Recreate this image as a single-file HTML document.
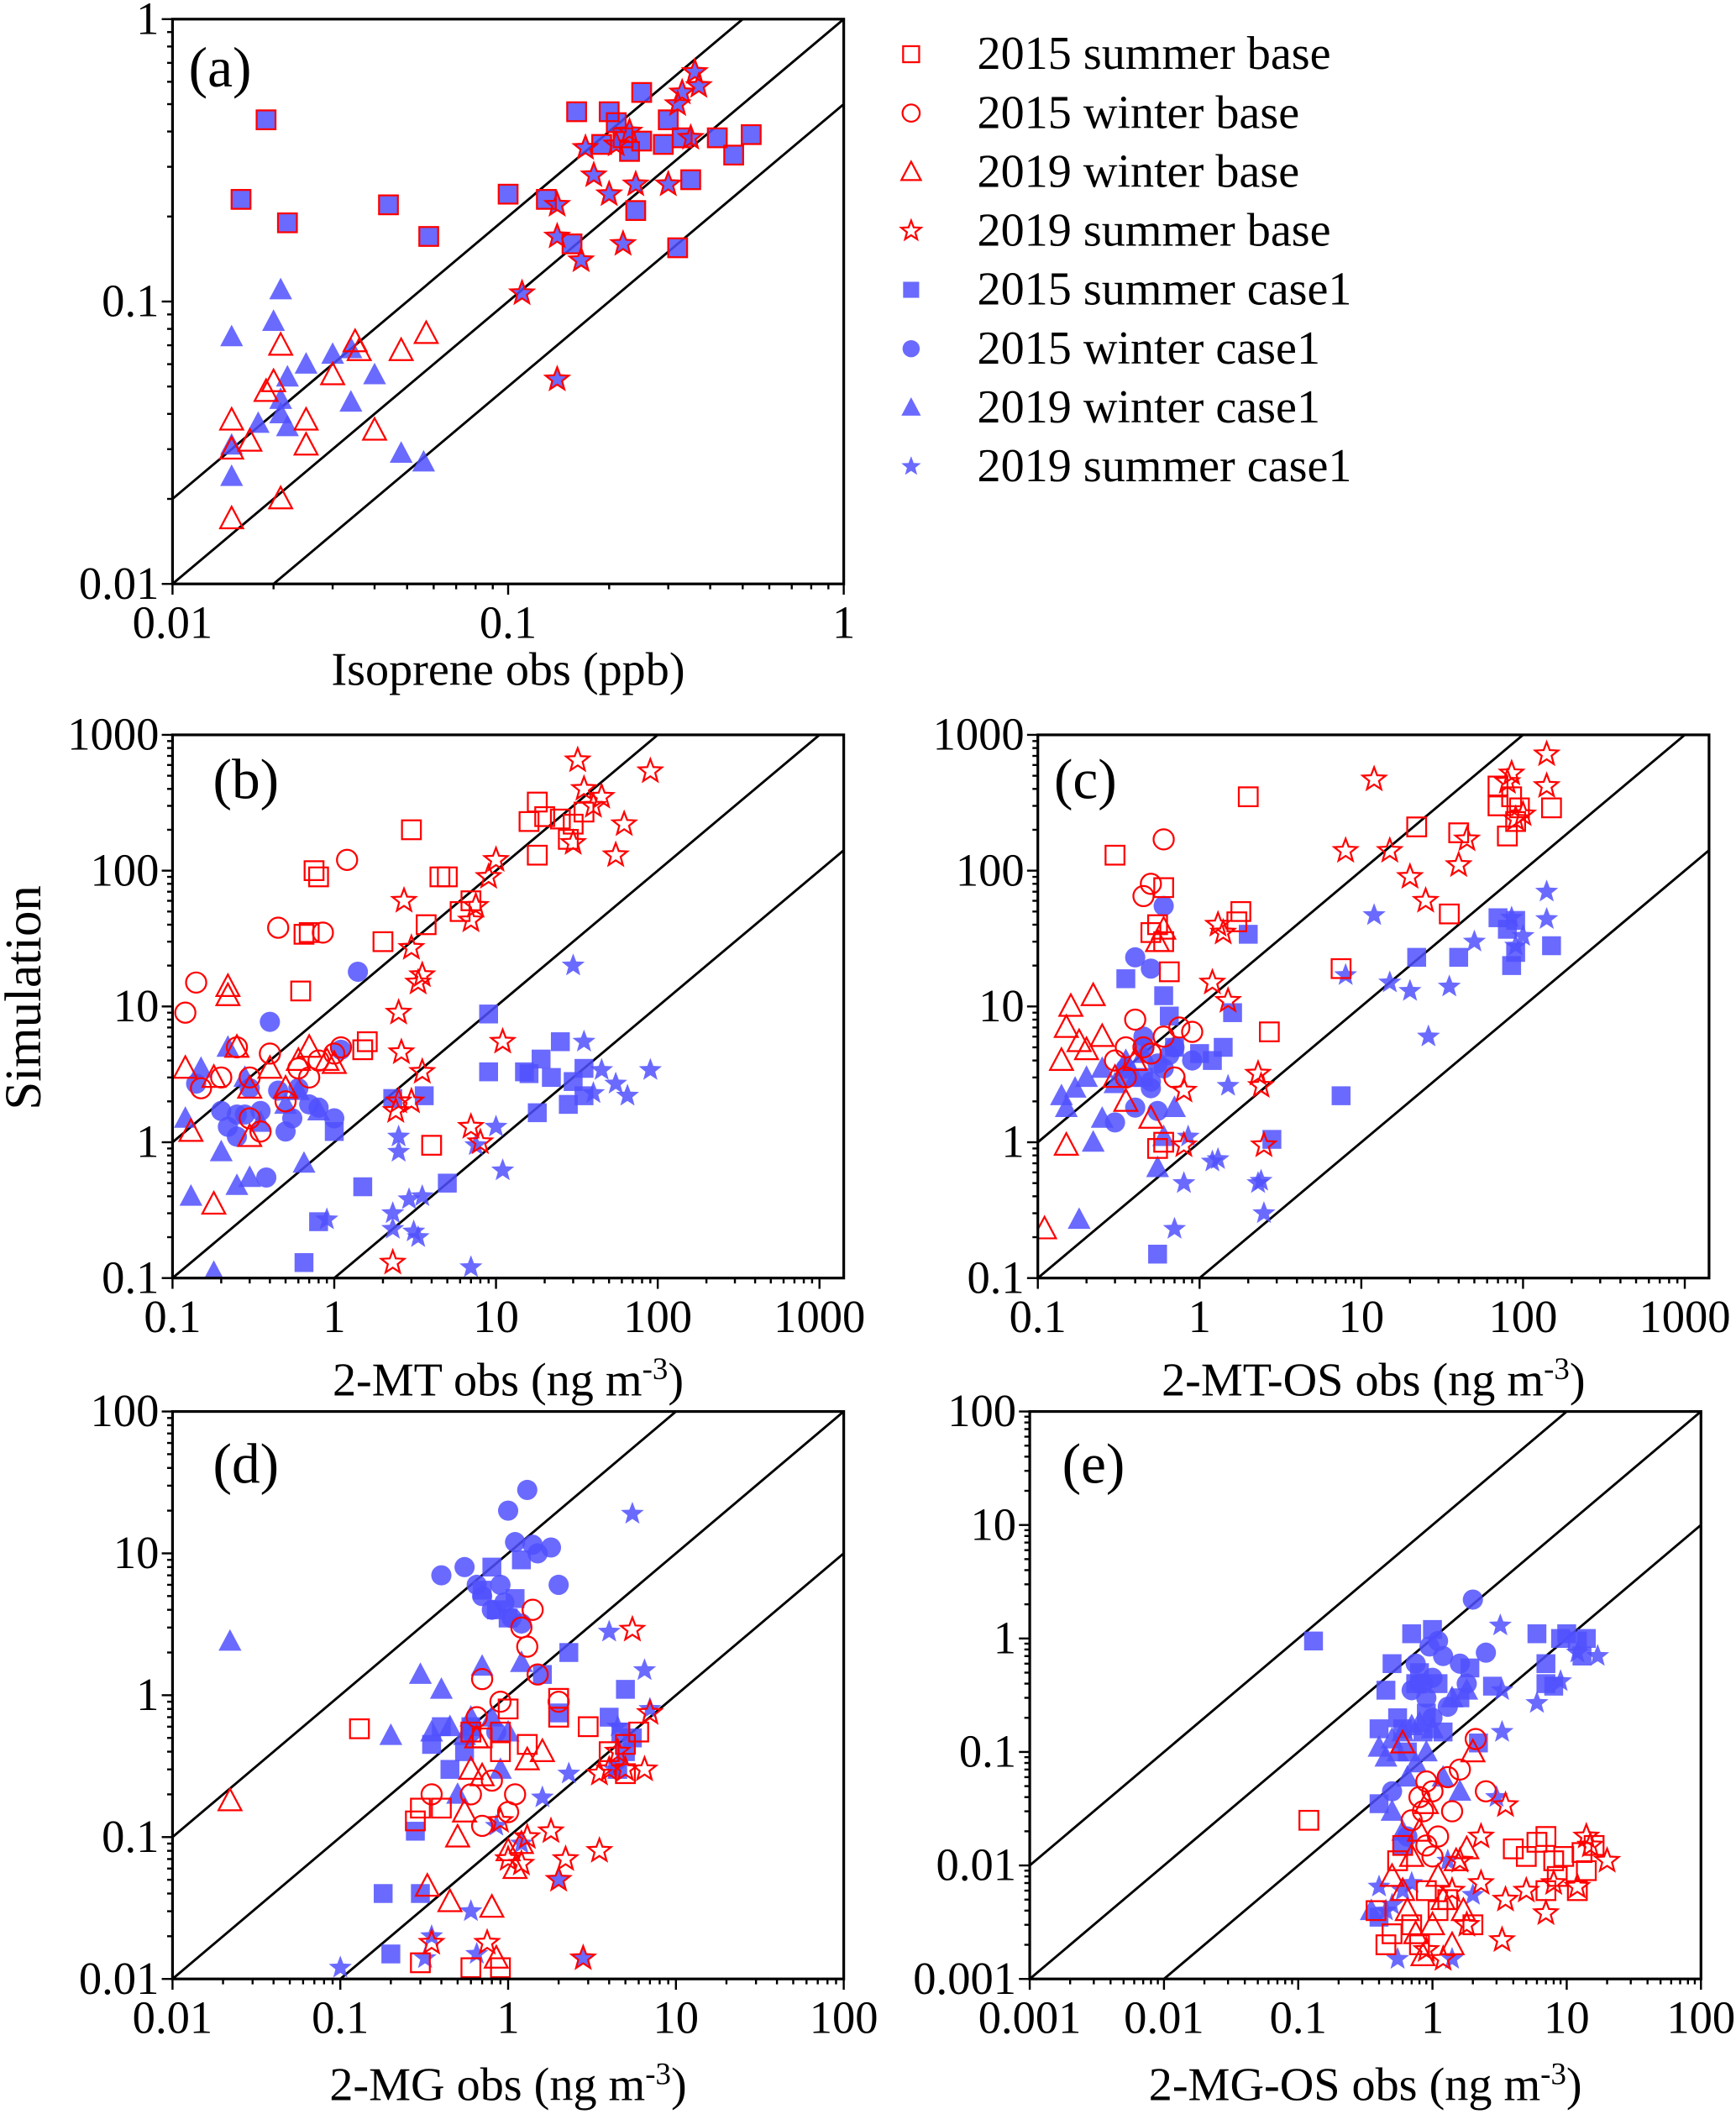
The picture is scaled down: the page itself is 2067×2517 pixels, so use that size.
<!DOCTYPE html>
<html><head><meta charset="utf-8">
<style>html,body{margin:0;padding:0;background:#fff;overflow:hidden;}svg{display:block;}</style></head>
<body>
<svg id="fig" xmlns="http://www.w3.org/2000/svg" width="2067" height="2517" viewBox="0 0 1288 1568" font-family="'Liberation Serif', serif"></svg>
<script>
// ---------- data: panel (a) ----------
const a_sqBase=[[0.019,0.44],[0.016,0.23],[0.022,0.19],[0.044,0.22],[0.058,0.17],[0.1,0.24],[0.13,0.23],[0.16,0.47],[0.155,0.16],[0.19,0.36],[0.2,0.47],[0.23,0.34],[0.21,0.43],[0.24,0.21],[0.25,0.55],[0.25,0.37],[0.32,0.155],[0.30,0.44],[0.35,0.27],[0.33,0.38],[0.42,0.38],[0.47,0.33],[0.53,0.39],[0.22,0.38],[0.29,0.36]];
const a_sqCase=a_sqBase;
const a_stBase=[[0.11,0.107],[0.14,0.22],[0.14,0.17],[0.14,0.053],[0.165,0.14],[0.18,0.28],[0.2,0.24],[0.22,0.16],[0.24,0.26],[0.17,0.35],[0.23,0.4],[0.30,0.26],[0.33,0.55],[0.36,0.65],[0.37,0.58],[0.35,0.38],[0.32,0.5],[0.21,0.36]];
const a_stCase=a_stBase;
const a_trBase=[[0.015,0.017],[0.015,0.03],[0.015,0.038],[0.017,0.032],[0.019,0.048],[0.02,0.052],[0.021,0.07],[0.021,0.02],[0.025,0.031],[0.025,0.038],[0.03,0.055],[0.035,0.072],[0.036,0.067],[0.04,0.035],[0.048,0.067],[0.057,0.077]];
const a_trCase=[[0.015,0.075],[0.015,0.031],[0.015,0.024],[0.018,0.037],[0.02,0.085],[0.021,0.11],[0.021,0.045],[0.022,0.054],[0.022,0.036],[0.025,0.06],[0.03,0.065],[0.034,0.068],[0.034,0.044],[0.04,0.055],[0.048,0.029],[0.056,0.027],[0.021,0.04]];
// ---------- panel (b) ----------
const b_sqBase=[[0.65,34],[0.7,35],[0.62,13],[0.75,100],[0.8,90],[1.5,4.8],[1.6,5.5],[2,30],[3,200],[3.7,40],[4.5,90],[5,90],[4,0.95],[16,230],[18,320],[20,250],[25,240],[30,220],[35,270],[28,170],[18,130],[7,60],[6,50]];
const b_ciBase=[[0.12,9],[0.14,15],[0.25,5],[0.3,3],[0.4,4.5],[0.45,38],[0.5,2],[0.6,3.5],[0.7,3],[0.8,4],[1,4.5],[1.1,5],[1.2,120],[0.85,35],[0.2,3],[0.3,1.5],[0.35,1.2],[0.15,2.5]];
const b_trBase=[[0.12,3.5],[0.13,1.2],[0.18,0.35],[0.22,14],[0.22,12],[0.18,3],[0.3,2.5],[0.25,5],[0.4,3.5],[0.5,2.5],[0.6,4],[0.7,5],[0.9,4],[1.0,3.8],[0.3,1.1]];
const b_stBase=[[2.3,0.13],[2.4,1.7],[2.5,2.0],[2.5,9],[2.6,4.6],[2.7,60],[3,2],[3,27],[3.3,15],[3.5,3.3],[3.5,17],[7,43],[7.5,55],[9,90],[10,120],[11,5.5],[7,1.3],[8,1],[32,650],[35,400],[40,300],[45,350],[55,130],[62,220],[90,540],[30,160]];
const b_sqCase=[[0.65,0.13],[0.8,0.26],[1,1.2],[1.5,0.47],[2.3,2.1],[3.6,2.2],[5,0.5],[9,8.8],[9,3.3],[16,3.2],[18,1.65],[19,4.1],[22,3],[25,5.5],[28,1.9],[30,2.8],[35,2.2],[35,3.5],[15,3.3]];
const b_ciCase=[[0.14,2.7],[0.2,1.7],[0.22,1.3],[0.25,1.1],[0.28,1.6],[0.3,2.5],[0.35,1.7],[0.4,7.7],[0.45,2.4],[0.5,1.2],[0.55,1.5],[0.6,2.5],[0.7,1.9],[0.8,1.8],[1.0,1.5],[1.1,4.8],[1.4,18],[0.38,0.55],[0.25,1.6]];
const b_trCase=[[0.12,1.5],[0.13,0.4],[0.18,0.11],[0.2,0.85],[0.22,5],[0.25,0.48],[0.3,0.55],[0.35,1.4],[0.5,1.9],[0.65,0.7],[0.8,1.7],[0.15,3.5],[0.28,3],[0.6,2.4]];
const b_stCase=[[0.9,0.27],[2.3,0.3],[2.3,0.23],[2.5,0.85],[2.5,1.1],[2.9,0.38],[3.1,0.22],[3.3,0.2],[3.5,0.4],[7,0.12],[7.5,0.95],[10,1.3],[11,0.62],[30,20],[35,5.5],[40,2.3],[45,3.4],[55,2.7],[65,2.2],[90,3.4]];
// ---------- panel (c) ----------
const c_sqBase=[[0.3,130],[0.5,35],[0.55,40],[0.6,75],[0.6,30],[0.65,18],[1.8,50],[1.7,42],[2,350],[2.7,6.5],[0.6,1],[0.55,0.9],[7.5,19],[22,210],[40,190],[70,300],[80,180],[70,420],[85,350],[95,290],[150,290],[90,230],[35,48]];
const c_ciBase=[[0.35,3],[0.45,65],[0.5,80],[0.6,170],[0.4,8],[0.45,5],[0.5,4.5],[0.6,6],[0.7,3],[0.75,7],[0.9,6.5],[0.35,5],[0.3,4]];
const c_trBase=[[0.11,0.23],[0.15,0.95],[0.14,4],[0.15,7],[0.16,10],[0.18,5.5],[0.2,4.8],[0.22,12],[0.25,6],[0.3,3],[0.4,4],[0.5,1.5],[0.55,30],[0.6,37],[0.35,2]];
const c_stBase=[[0.8,2.4],[0.8,0.95],[1.2,15],[1.3,40],[1.4,35],[1.5,11],[2.3,3.2],[2.4,2.6],[2.5,0.95],[8,140],[12,470],[15,140],[20,90],[25,60],[40,110],[45,170],[80,450],[85,520],[100,260],[140,720],[140,420],[90,240]];
const c_sqCase=[[0.35,16],[0.45,3],[0.55,0.15],[0.6,12],[0.7,5],[1,4.5],[1.2,4],[1.4,5],[1.6,9],[2.8,1.05],[2,34],[7.5,2.2],[22,23],[40,23],[70,45],[80,37],[85,20],[90,43],[150,28],[90,25],[0.65,8.5]];
const c_ciCase=[[0.3,1.4],[0.35,3],[0.4,1.8],[0.4,23],[0.45,5],[0.5,19],[0.5,2.5],[0.55,3.8],[0.6,55],[0.55,1.7],[0.6,3.5],[0.65,4.4],[0.7,5],[0.9,4],[0.45,6],[0.5,2.8],[0.35,3.5]];
const c_trCase=[[0.14,2.2],[0.15,1.8],[0.18,0.27],[0.17,2.5],[0.2,3],[0.22,1],[0.25,3.5],[0.3,2.7],[0.35,4],[0.4,3],[0.45,4.5],[0.55,0.65],[0.6,1.1],[0.7,1.8],[0.25,1.5]];
const c_stCase=[[0.7,0.23],[0.8,0.5],[0.85,1.1],[1.2,0.72],[1.3,0.75],[1.5,2.6],[2.3,0.5],[2.5,0.3],[2.4,0.52],[8,17],[12,47],[15,15],[20,13],[26,6],[35,14],[50,30],[85,45],[90,28],[140,70],[140,44],[100,33]];
// ---------- panel (d) ----------
const d_sqBase=[[0.13,0.58],[0.28,0.13],[0.3,0.16],[0.4,0.16],[0.6,0.55],[0.7,0.5],[0.9,0.55],[0.9,0.4],[1.0,0.8],[1.3,0.45],[2,0.7],[2,0.95],[3,0.6],[4,0.4],[5,0.28],[5,0.45],[6,0.55],[0.6,0.012],[0.9,0.012],[0.3,0.013]];
const d_ciBase=[[0.35,0.2],[0.6,0.2],[0.65,0.7],[0.7,1.3],[0.8,0.25],[0.9,0.9],[1,0.15],[1.1,0.2],[1.2,3],[1.3,2.2],[1.4,4],[1.5,1.4],[2,0.9],[0.7,0.12]];
const d_trBase=[[0.022,0.18],[0.33,0.045],[0.45,0.035],[0.5,0.1],[0.55,0.15],[0.6,0.3],[0.7,0.27],[0.8,0.032],[0.85,0.014],[1,0.08],[1.1,0.06],[1.2,0.09],[1.3,0.35],[1.6,0.4],[0.65,0.5]];
const d_stBase=[[0.35,0.018],[0.75,0.018],[0.9,0.13],[1,0.07],[1.2,0.065],[1.3,0.1],[1.8,0.11],[2,0.05],[2.2,0.07],[2.8,0.014],[3.5,0.08],[3.5,0.28],[4,0.3],[5,0.3],[5.5,2.9],[6.5,0.3],[7,0.75],[4.5,0.4]];
const d_sqCase=[[0.18,0.04],[0.2,0.015],[0.28,0.11],[0.3,0.04],[0.35,0.45],[0.4,0.6],[0.45,0.3],[0.55,0.4],[0.6,0.6],[0.7,5.5],[0.8,8],[0.85,4],[1.0,3.5],[1.2,9],[1.6,1.4],[2,0.75],[2.3,2],[4,0.7],[5,1.1],[5.5,0.5],[5,0.4],[4.5,0.3],[1.1,4.8],[4.7,0.55]];
const d_ciCase=[[0.4,7],[0.55,8],[0.6,0.55],[0.65,6],[0.7,5],[0.8,4],[0.9,6],[0.95,4.5],[1.05,3.5],[1.1,12],[1.2,3.2],[1.3,28],[1.4,11.5],[1.5,10],[1.8,11],[2,6],[0.85,0.55],[1,20]];
const d_trCase=[[0.022,2.4],[0.2,0.52],[0.3,1.4],[0.35,0.55],[0.4,1.1],[0.45,0.6],[0.55,0.52],[0.6,0.7],[0.7,1.6],[0.8,0.7],[0.9,0.3],[1,0.55],[1.2,1.7],[0.5,0.2]];
const d_stCase=[[0.1,0.012],[0.32,0.014],[0.35,0.02],[0.6,0.03],[0.65,0.015],[0.85,0.12],[1.2,0.09],[1.6,0.19],[2,0.05],[2.3,0.28],[2.8,0.014],[4,2.8],[4.3,0.3],[5.5,19],[6.5,1.5],[4.5,0.6],[7,0.8]];
// ---------- panel (e) ----------
const e_sqBase=[[0.12,0.025],[0.38,0.004],[0.45,0.002],[0.5,0.0025],[0.55,0.011],[0.6,0.015],[0.7,0.003],[0.8,0.002],[0.9,0.006],[1.1,0.004],[1.3,0.005],[2,0.003],[4,0.014],[5,0.012],[6,0.016],[7,0.018],[8,0.011],[8.5,0.008],[9.5,0.012],[12,0.006],[13,0.013],[14,0.009],[16,0.015],[7,0.006]];
const e_ciBase=[[0.7,0.025],[0.8,0.04],[0.85,0.03],[0.9,0.055],[1,0.045],[1.1,0.018],[1.3,0.06],[1.4,0.03],[1.6,0.07],[2.1,0.13],[2.5,0.045],[0.9,0.015],[1,0.012]];
const e_trBase=[[0.5,0.008],[0.6,0.006],[0.65,0.004],[0.7,0.012],[0.75,0.0025],[0.8,0.02],[0.85,0.0016],[0.9,0.035],[1,0.003],[1.1,0.008],[1.2,0.005],[1.4,0.002],[1.5,0.011],[1.8,0.014],[2,0.1],[0.6,0.12],[1.7,0.004]];
const e_stBase=[[0.9,0.0018],[1.2,0.0015],[1.4,0.006],[1.6,0.011],[1.8,0.003],[2.3,0.007],[3.3,0.0022],[3.5,0.034],[3.5,0.005],[5,0.006],[7,0.0038],[8,0.007],[12,0.0065],[14,0.018],[15,0.015],[20,0.011],[2.3,0.018]];
const e_sqCase=[[0.13,0.95],[0.4,0.16],[0.4,0.035],[0.45,0.35],[0.5,0.6],[0.55,0.2],[0.6,0.16],[0.65,0.1],[0.7,1.1],[0.75,0.4],[0.8,0.5],[0.85,0.15],[0.9,0.22],[1,1.2],[1.1,0.4],[1.2,0.15],[1.6,0.3],[1.9,0.55],[2.2,0.12],[6,1.1],[7,0.6],[8,0.38],[9,1],[10,1.1],[12,0.95],[13,0.7],[14,1],[7,0.4],[2.8,0.38],[0.4,0.0035],[0.6,0.015]];
const e_ciCase=[[0.5,0.045],[0.65,0.018],[0.7,0.35],[0.75,0.6],[0.8,0.4],[0.85,0.4],[0.9,0.3],[0.95,0.85],[1,0.45],[1.1,0.95],[1.2,0.7],[1.3,0.25],[1.6,0.6],[1.8,0.4],[2,2.2],[2.5,0.75],[1,0.2]];
const e_trCase=[[0.35,0.004],[0.4,0.11],[0.45,0.09],[0.5,0.13],[0.55,0.1],[0.6,0.15],[0.65,0.06],[0.7,0.17],[0.75,0.08],[0.8,0.18],[0.9,0.1],[1,0.16],[1.2,0.06],[1.4,0.3],[1.6,0.045],[1.8,0.35],[0.5,0.03],[0.6,0.02]];
const e_stCase=[[0.4,0.0065],[0.45,0.004],[0.5,0.0045],[0.55,0.0015],[0.6,0.006],[0.7,0.007],[1.3,0.011],[1.4,0.0015],[2,0.0055],[3.2,1.3],[3.3,0.15],[3.3,0.35],[3,0.04],[6,0.27],[9,0.42],[12,0.75],[17,0.7]];

const legendLabels=["2015 summer base","2015 winter base","2019 winter base","2019 summer base","2015 summer case1","2015 winter case1","2019 winter case1","2019 summer case1"];

const NS="http://www.w3.org/2000/svg";
const svg=document.getElementById('fig');
function mk(tag,attrs,parent){const e=document.createElementNS(NS,tag);for(const k in attrs)e.setAttribute(k,attrs[k]);(parent||svg).appendChild(e);return e;}
const RED="#ff0000", BLUE="rgba(80,80,255,0.85)";
function marker(shape,filled,x,y,parent,s){
  s=s||1;
  const st=filled?{fill:BLUE,stroke:"none"}:{fill:"none",stroke:RED,"stroke-width":1.4};
  let e;
  if(shape==="sq"){e=mk('rect',Object.assign({x:x-7*s,y:y-7*s,width:14*s,height:14*s},st),parent);}
  else if(shape==="ci"){e=mk('circle',Object.assign({cx:x,cy:y,r:7.5*s},st),parent);}
  else if(shape==="tr"){e=mk('polygon',Object.assign({points:`${x},${y-9*s} ${x+8.5*s},${y+7*s} ${x-8.5*s},${y+7*s}`},st),parent);}
  else {let p=[];for(let i=0;i<10;i++){const r=(i%2?3.8:9)*s;const a=-Math.PI/2+i*Math.PI/5;p.push((x+r*Math.cos(a)).toFixed(2)+","+(y+r*Math.sin(a)).toFixed(2));}
    e=mk('polygon',Object.assign({points:p.join(" ")},st),parent);}
  return e;
}

function panel(cfg){
  const g=mk('g',{});
  
  
  const {L,R,T,B,xmin,xmax,ymin,ymax}=cfg;
  const sx=v=>L+(Math.log10(v)-xmin)/(xmax-xmin)*(R-L);
  const sy=v=>B-(Math.log10(v)-ymin)/(ymax-ymin)*(B-T);
  const cid='clip'+cfg.id;
  const defs=mk('defs',{},g);const cp=mk('clipPath',{id:cid},defs);mk('rect',{x:L,y:T,width:R-L,height:B-T},cp);
  const lg=mk('g',{'clip-path':`url(#${cid})`},g);
  cfg.lines.forEach((f,i)=>{
    const xa=Math.pow(10,xmin-3), xb=Math.pow(10,xmax+3);
    const ln=mk('line',{x1:sx(xa),y1:sy(xa*f),x2:sx(xb),y2:sy(xb*f),stroke:"#000","stroke-width":1.8},lg);
    
    
  });
  const mg=mk('g',{'clip-path':`url(#${cid})`},g);
  const shapes=["sq","ci","tr","st"];
  shapes.forEach(sh=>{(cfg.data[sh+"Case"]||[]).forEach(d=>{const m=marker(sh,true,sx(d[0]),sy(d[1]),mg);
    
    });});
  shapes.forEach(sh=>{(cfg.data[sh+"Base"]||[]).forEach(d=>{const m=marker(sh,false,sx(d[0]),sy(d[1]),mg);
    
    });});
  const fr=mk('rect',{x:L,y:T,width:R-L,height:B-T,fill:"none",stroke:"#000","stroke-width":2},g);
  
  
  for(let d=Math.floor(xmin);d<=Math.ceil(xmax);d++){for(let k=1;k<10;k++){const lv=d+Math.log10(k);if(lv<xmin-1e-9||lv>xmax+1e-9)continue;const x=sx(Math.pow(10,lv));
    mk('line',{x1:x,y1:B,x2:x,y2:B+(k===1?8:4),stroke:"#000","stroke-width":1.5},g);}}
  for(let d=Math.floor(ymin);d<=Math.ceil(ymax);d++){for(let k=1;k<10;k++){const lv=d+Math.log10(k);if(lv<ymin-1e-9||lv>ymax+1e-9)continue;const y=sy(Math.pow(10,lv));
    mk('line',{x1:L,y1:y,x2:L-(k===1?8:4),y2:y,stroke:"#000","stroke-width":1.5},g);}}
  cfg.xt.forEach(v=>{const t=mk('text',{x:sx(v),y:B+40,'text-anchor':'middle','font-size':34},g);t.textContent=String(v);
    
    });
  cfg.yt.forEach(v=>{const t=mk('text',{x:L-10,y:sy(v)+11,'text-anchor':'end','font-size':34},g);t.textContent=String(v);
    
    });
  const pl=mk('text',{x:cfg.lx,y:cfg.ly,'font-size':42},g);pl.textContent="("+cfg.id+")";
  
  
  const xt=mk('text',{x:(L+R)/2,y:cfg.ty,'text-anchor':'middle','font-size':35},g);
  
  
  if(cfg.sup){xt.textContent=cfg.title+" (ng m";const s=mk('tspan',{dy:-12,'font-size':23},xt);s.textContent="-3";const s2=mk('tspan',{dy:12},xt);s2.textContent=")";}
  else xt.textContent=cfg.title;
}

panel({id:'a',L:128,R:626,T:14,B:433,xmin:-2,xmax:0,ymin:-2,ymax:0,lines:[2,1,0.5],xt:[0.01,0.1,1],yt:[0.01,0.1,1],lx:140,ly:64,ty:508,title:"Isoprene obs (ppb)",
  data:{sqBase:a_sqBase,sqCase:a_sqCase,stBase:a_stBase,stCase:a_stCase,trBase:a_trBase,trCase:a_trCase}});
panel({id:'b',L:128,R:626,T:545,B:948,xmin:-1,xmax:3.15,ymin:-1,ymax:3,lines:[10,1,0.1],xt:[0.1,1,10,100,1000],yt:[0.1,1,10,100,1000],lx:158,ly:592,ty:1035,title:"2-MT obs",sup:true,
  data:{sqBase:b_sqBase,ciBase:b_ciBase,trBase:b_trBase,stBase:b_stBase,sqCase:b_sqCase,ciCase:b_ciCase,trCase:b_trCase,stCase:b_stCase}});
panel({id:'c',L:770,R:1268,T:545,B:948,xmin:-1,xmax:3.15,ymin:-1,ymax:3,lines:[10,1,0.1],xt:[0.1,1,10,100,1000],yt:[0.1,1,10,100,1000],lx:782,ly:592,ty:1035,title:"2-MT-OS obs",sup:true,
  data:{sqBase:c_sqBase,ciBase:c_ciBase,trBase:c_trBase,stBase:c_stBase,sqCase:c_sqCase,ciCase:c_ciCase,trCase:c_trCase,stCase:c_stCase}});
panel({id:'d',L:128,R:626,T:1047,B:1468,xmin:-2,xmax:2,ymin:-2,ymax:2,lines:[10,1,0.1],xt:[0.01,0.1,1,10,100],yt:[0.01,0.1,1,10,100],lx:158,ly:1100,ty:1558,title:"2-MG obs",sup:true,
  data:{sqBase:d_sqBase,ciBase:d_ciBase,trBase:d_trBase,stBase:d_stBase,sqCase:d_sqCase,ciCase:d_ciCase,trCase:d_trCase,stCase:d_stCase}});
panel({id:'e',L:764,R:1262,T:1047,B:1468,xmin:-3,xmax:2,ymin:-3,ymax:2,lines:[10,1,0.1],xt:[0.001,0.01,0.1,1,10,100],yt:[0.001,0.01,0.1,1,10,100],lx:788,ly:1100,ty:1558,title:"2-MG-OS obs",sup:true,
  data:{sqBase:e_sqBase,ciBase:e_ciBase,trBase:e_trBase,stBase:e_stBase,sqCase:e_sqCase,ciCase:e_ciCase,trCase:e_trCase,stCase:e_stCase}});

const yt=mk('text',{x:0,y:0,transform:'translate(30,740) rotate(-90)','text-anchor':'middle','font-size':38});
yt.textContent="Simulation";



const lgd=mk('g',{});


const shp=["sq","ci","tr","st","sq","ci","tr","st"];
legendLabels.forEach((lab,i)=>{
  const y=40+i*43.7;
  const m=marker(shp[i],i>=4,676,y,lgd,0.85);
  
  
  const t=mk('text',{x:725,y:y+11,'font-size':35},lgd);t.textContent=lab;
  
  
});
</script>
</body></html>
